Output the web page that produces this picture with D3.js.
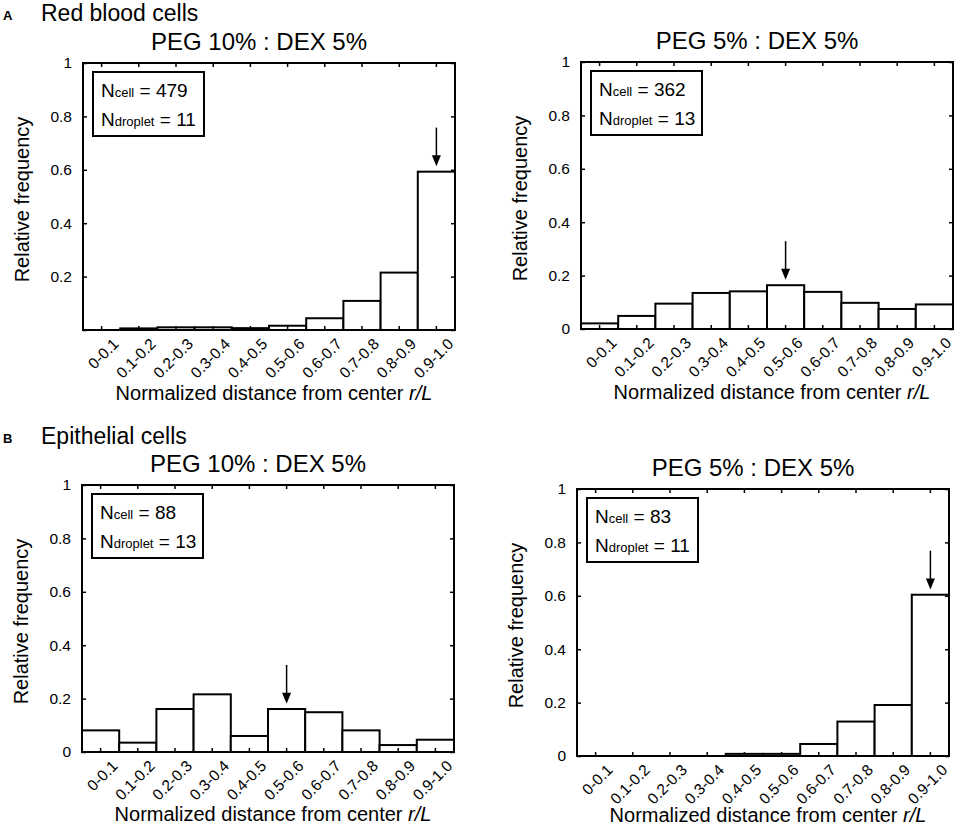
<!DOCTYPE html>
<html>
<head>
<meta charset="utf-8">
<script src="https://cdn.jsdelivr.net/npm/d3@7"></script>
<style>
  body { margin: 0; background: #fff; }
  svg { font-family: "Liberation Sans", Arial, sans-serif; }
</style>
</head>
<body>
<div id="chart"></div>
<script>

// bins of the normalized distance r/L
var bins = ["0-0.1", "0.1-0.2", "0.2-0.3", "0.3-0.4", "0.4-0.5",
            "0.5-0.6", "0.6-0.7", "0.7-0.8", "0.8-0.9", "0.9-1.0"];

// relative frequencies
var rbcPeg10 = [0, 0.006, 0.01, 0.01, 0.007, 0.016, 0.044, 0.109, 0.215, 0.593];
var rbcPeg5  = [0.021, 0.049, 0.095, 0.135, 0.141, 0.164, 0.139, 0.098, 0.075, 0.092];
var epiPeg10 = [0.081, 0.035, 0.161, 0.216, 0.06, 0.161, 0.149, 0.081, 0.026, 0.046];
var epiPeg5  = [0, 0, 0, 0, 0.008, 0.008, 0.045, 0.129, 0.191, 0.604];

var yTicks = [0, 0.2, 0.4, 0.6, 0.8, 1];

var panelTitles = ["PEG 10% : DEX 5%", "PEG 5% : DEX 5%",
                   "PEG 10% : DEX 5%", "PEG 5% : DEX 5%"];
var nCell    = [479, 362, 88, 83];
var nDroplet = [11, 13, 13, 11];
var arrowBin = ["0.9-1.0", "0.5-0.6", "0.5-0.6", "0.9-1.0"];
var showZero = [false, true, true, true];

var sections = [{tag: "A", name: "Red blood cells", y: 21},
                {tag: "B", name: "Epithelial cells", y: 444}];


var dim = {width: 372, height: 267};
var origins = [{x: 83, y: 63}, {x: 581, y: 62}, {x: 82, y: 485}, {x: 577, y: 489}];
var xlab_dy = [70, 70, 69, 66];
var series = [rbcPeg10, rbcPeg5, epiPeg10, epiPeg5];

var svg = d3.select("#chart").append("svg")
    .attr("width", 957)
    .attr("height", 827);

svg.selectAll("g.section")
    .data(sections)
    .enter()
    .append("g")
    .attr("class", "section")
    .each(function (d) {
        var g = d3.select(this);
        g.append("text")
            .attr("x", 3).attr("y", d.y - 1)
            .attr("font-size", 13).attr("font-weight", "bold")
            .text(d.tag);
        g.append("text")
            .attr("x", 41).attr("y", d.y)
            .attr("font-size", 23)
            .text(d.name);
    });

var x = d3.scaleBand().domain(bins).range([0, dim.width]).padding(0);
var y = d3.scaleLinear().domain([0, 1]).range([dim.height, 0]);

for (var p = 0; p < series.length; p++) {
    draw_panel(p);
}


function draw_panel(p) {
    var vals = series[p];
    var data = bins.map(function (b, i) { return {bin: b, value: vals[i]}; });
    var g = svg.append("g")
        .attr("transform", "translate(" + origins[p].x + "," + origins[p].y + ")");

    // title
    g.append("text")
        .attr("x", dim.width / 2 - 10)
        .attr("y", -13)
        .attr("text-anchor", "middle")
        .attr("font-size", 24)
        .text(panelTitles[p]);

    // bars
    g.selectAll("rect.bar")
        .data(data.filter(function (d) { return d.value > 0; }))
        .enter()
        .append("rect")
        .attr("class", "bar")
        .attr("x", function (d) { return x(d.bin); })
        .attr("y", function (d) { return y(d.value); })
        .attr("width", x.bandwidth())
        .attr("height", function (d) { return y(0) - y(d.value); })
        .attr("fill", "#fff")
        .attr("stroke", "#000")
        .attr("stroke-width", 2);

    // ticks inside the box, on all four sides
    var fmt = function (d) {
        if (d === 0 && !showZero[p]) return "";
        return (d === 0 || d === 1) ? String(d) : d.toFixed(1);
    };
    var left = g.append("g")
        .call(d3.axisLeft(y).tickValues(yTicks).tickSize(-4).tickPadding(11)
              .tickSizeOuter(0).tickFormat(fmt));
    left.selectAll("text").attr("font-size", 15.5).attr("fill", "#000")
        .attr("font-family", "Liberation Sans, Arial, sans-serif");
    g.append("g")
        .attr("transform", "translate(" + dim.width + ",0)")
        .call(d3.axisRight(y).tickValues(yTicks).tickSize(-4).tickSizeOuter(0).tickFormat(""));
    g.append("g")
        .attr("transform", "translate(0," + dim.height + ")")
        .call(d3.axisBottom(x).tickSize(-4).tickSizeOuter(0).tickFormat(""));
    g.append("g")
        .call(d3.axisTop(x).tickSize(-4).tickSizeOuter(0).tickFormat(""));
    g.selectAll(".tick line").attr("stroke", "#000").attr("stroke-width", 1.5);
    g.selectAll(".domain").remove();

    // frame
    g.append("rect")
        .attr("width", dim.width)
        .attr("height", dim.height)
        .attr("fill", "none")
        .attr("stroke", "#000")
        .attr("stroke-width", 2);

    // rotated bin labels
    g.selectAll("text.bin")
        .data(bins)
        .enter()
        .append("text")
        .attr("class", "bin")
        .attr("text-anchor", "end")
        .attr("font-size", 15.5)
        .attr("transform", function (d) {
            return "translate(" + (x(d) + x.bandwidth() / 2 + 18) + ","
                + (dim.height + 15) + ") rotate(-45)";
        })
        .text(function (d) { return d; });

    // axis titles
    g.append("text")
        .attr("transform", "translate(-54," + (dim.height / 2 + 3) + ") rotate(-90)")
        .attr("text-anchor", "middle")
        .attr("font-size", 20)
        .text("Relative frequency");
    var xl = g.append("text")
        .attr("x", dim.width / 2 + 5)
        .attr("y", dim.height + xlab_dy[p])
        .attr("text-anchor", "middle")
        .attr("font-size", 20);
    xl.append("tspan").text("Normalized distance from center ");
    xl.append("tspan").attr("font-style", "italic").text("r/L");

    // N box
    var lg = g.append("g").attr("transform", "translate(10,9)");
    lg.append("rect")
        .attr("width", 111).attr("height", 64)
        .attr("fill", "#fff").attr("stroke", "#000").attr("stroke-width", 2);
    var l1 = lg.append("text").attr("x", 8).attr("y", 25).attr("font-size", 19);
    l1.append("tspan").text("N");
    l1.append("tspan").attr("font-size", 13).text("cell");
    l1.append("tspan").text(" = " + nCell[p]);
    var l2 = lg.append("text").attr("x", 8).attr("y", 54).attr("font-size", 19);
    l2.append("tspan").text("N");
    l2.append("tspan").attr("font-size", 13).text("droplet");
    l2.append("tspan").text("  = " + nDroplet[p]);

    // arrow over the peak bin
    var av = vals[bins.indexOf(arrowBin[p])];
    var ax = x(arrowBin[p]) + x.bandwidth() / 2;
    var tip = y(av + 0.02);
    g.append("line")
        .attr("x1", ax).attr("x2", ax)
        .attr("y1", y(av + 0.165)).attr("y2", tip - 8)
        .attr("stroke", "#000").attr("stroke-width", 1.5);
    g.append("path")
        .attr("d", d3.line()([[ax - 4.5, tip - 11], [ax + 4.5, tip - 11], [ax, tip]]) + "Z")
        .attr("fill", "#000");
}

</script>
</body>
</html>
